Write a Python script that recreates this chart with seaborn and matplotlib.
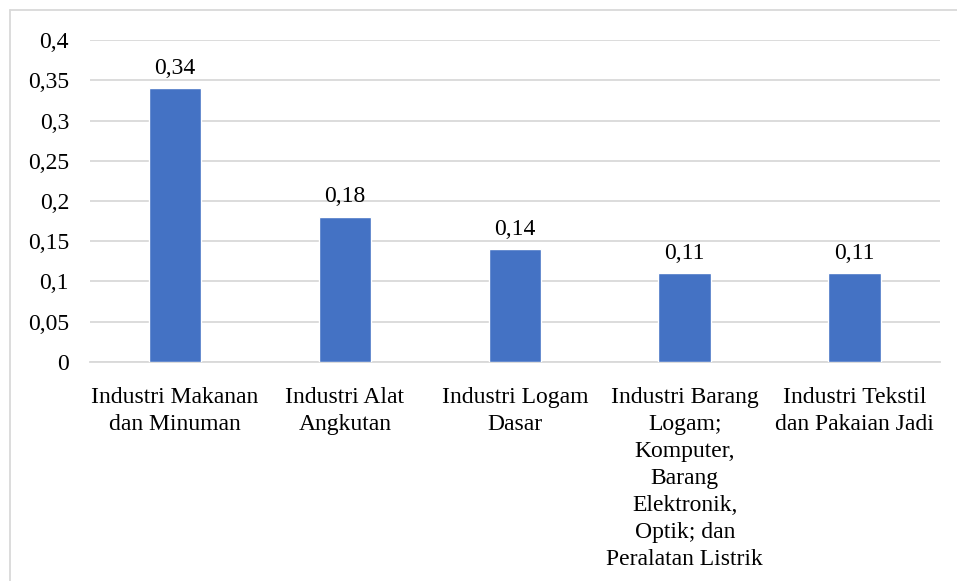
import numpy as np
import pandas as pd
import matplotlib
matplotlib.use("Agg")
import matplotlib.pyplot as plt
from matplotlib.lines import Line2D
from matplotlib.ticker import FuncFormatter, MultipleLocator
import seaborn as sns

# ── Data ──────────────────────────────────────────────────────────────────────
categories = [
    "Industri Makanan\ndan Minuman",
    "Industri Alat\nAngkutan",
    "Industri Logam\nDasar",
    "Industri Barang\nLogam;\nKomputer,\nBarang\nElektronik,\nOptik; dan\nPeralatan Listrik",
    "Industri Tekstil\ndan Pakaian Jadi",
]
values = [0.34, 0.18, 0.14, 0.11, 0.11]

df = pd.DataFrame({"kategori": categories, "nilai": values})

# ── Style ─────────────────────────────────────────────────────────────────────
sns.set_theme(style="white")
plt.rcParams["font.family"] = ["Liberation Serif", "DejaVu Serif"]

GRID = "#D9D9D9"
BAR = "#4472C4"
FS = 17


def comma(v, pos=None):
    return f"{v:g}".replace(".", ",")


fig = plt.figure(figsize=(9.57, 5.81), dpi=100)
ax = fig.add_axes([0.094, 0.377, 0.888, 0.554])

sns.barplot(data=df, x="kategori", y="nilai", color=BAR, width=0.31,
            saturation=1, ax=ax, zorder=3)

ax.set_ylim(0, 0.4)
ax.yaxis.set_major_locator(MultipleLocator(0.05))
ax.yaxis.set_major_formatter(FuncFormatter(comma))
ax.set_xlim(-0.5, len(categories) - 0.5)

ax.grid(axis="y", color=GRID, linewidth=1.3, zorder=0)
ax.set_axisbelow(True)
for side in ["top", "right", "left"]:
    ax.spines[side].set_visible(False)
ax.spines["bottom"].set_color(GRID)
ax.spines["bottom"].set_linewidth(1.3)
ax.spines["bottom"].set_zorder(1)

ax.tick_params(axis="both", length=0, labelsize=FS, colors="black")
ax.tick_params(axis="y", pad=15)
ax.tick_params(axis="x", pad=18)
for lbl in ax.get_xticklabels():
    lbl.set_linespacing(1.38)
ax.set_xlabel("")
ax.set_ylabel("")

ax.bar_label(ax.containers[0], labels=[comma(v) for v in values],
             padding=7, fontsize=FS, color="black")

# chart-area border (left and top edges visible)
bx = 10 / 957
by = 1 - 10 / 581
fig.add_artist(Line2D([bx, bx], [0, by], color=GRID, linewidth=1.3))
fig.add_artist(Line2D([bx, 1], [by, by], color=GRID, linewidth=1.3))

fig.savefig("out.png", dpi=100, facecolor="white")
